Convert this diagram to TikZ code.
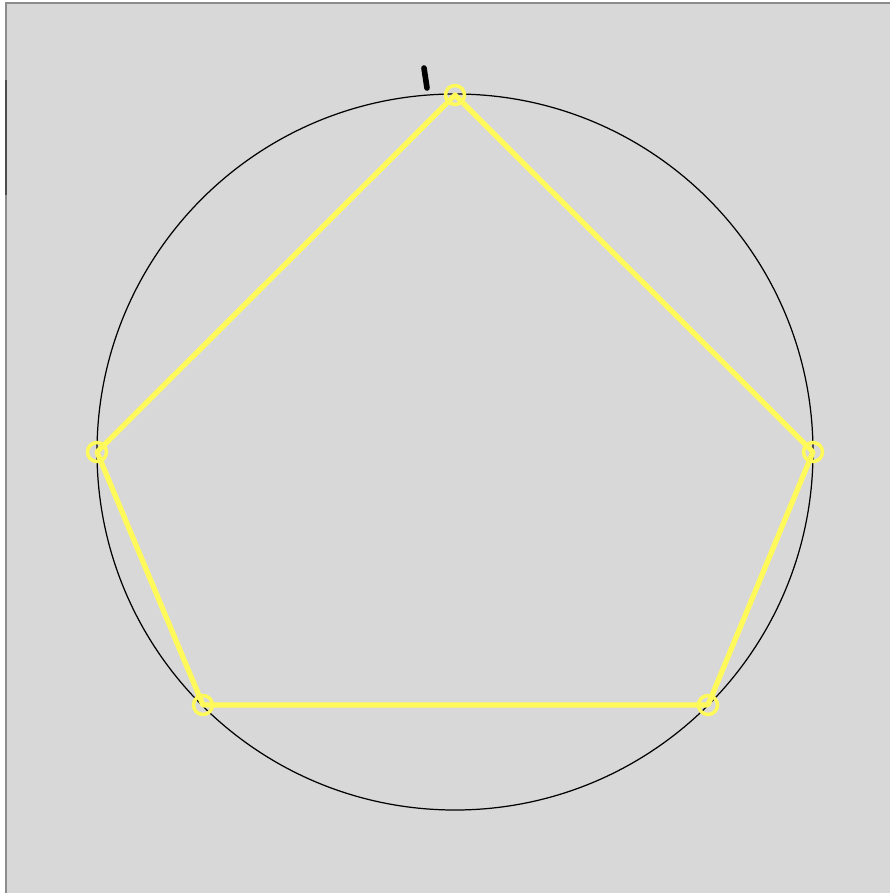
\documentclass[tikz,border=0pt]{standalone}
\usepackage{tikz}
\usetikzlibrary{positioning}
\definecolor{PanelGray}{RGB}{216,216,216}
\definecolor{EdgeGray}{RGB}{140,140,140}
\definecolor{SideYellow}{RGB}{255,250,90}

\begin{document}
\begin{tikzpicture}[
    x=0.02cm, y=-0.02cm,
    side/.style={draw=SideYellow, line width=3pt, line join=round},
    vertexmark/.style={circle, draw=SideYellow, line width=2pt, minimum size=0.38cm, inner sep=0pt},
    rim/.style={draw=black, line width=0.7pt}
]
    \useasboundingbox (0,0) rectangle (890,893);
    \fill[PanelGray] (6,3) rectangle (890,893);
    \draw[EdgeGray, line width=0.8pt] (6,893) -- (6,3) -- (890,3);
    \draw[black!70, line width=1pt] (6,80) -- (6,195);

    % circumscribed circle
    \coordinate (centre) at (455,452);
    \draw[rim] (centre) circle (358);

    % corners of the pentagon
    \coordinate (top) at (455,95);
    \coordinate (right) at (813,452);
    \coordinate (lowright) at (708,705);
    \coordinate (lowleft) at (203,705);
    \coordinate (left) at (97,452);

    \draw[side] (top) -- (right) -- (lowright) -- (lowleft) -- (left) -- cycle;

    \foreach \p in {top,right,lowright,lowleft,left}
        \node[vertexmark] (\p-ring) at (\p) {};

    % tick above the top corner
    \coordinate (tickA) at (424,68);
    \coordinate (tickB) at (427,88);
    \draw[black, line width=3.2pt, line cap=round] (tickA) -- (tickB);
\end{tikzpicture}
\end{document}
